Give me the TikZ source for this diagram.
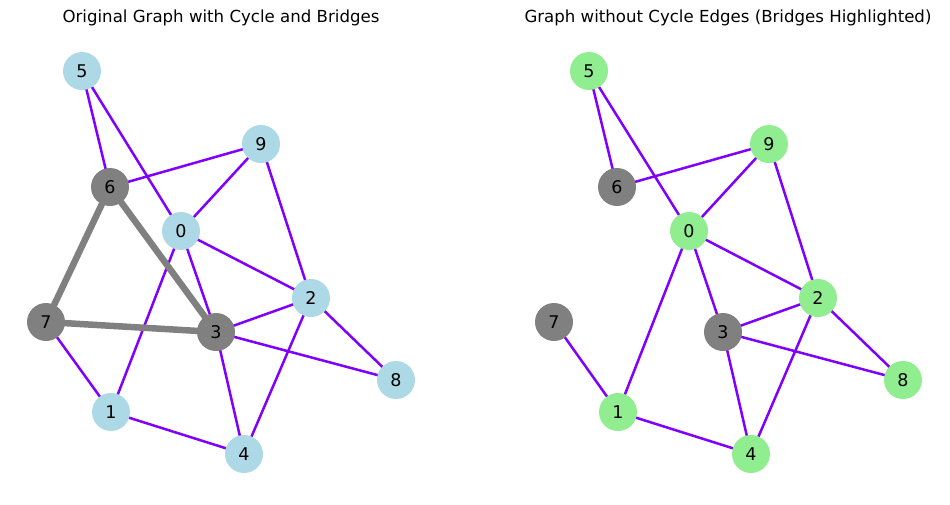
\documentclass[tikz,border=0pt]{standalone}
\usepackage{fontspec}
\setmainfont{DejaVu Sans}
\definecolor{edgep}{RGB}{128,0,255}
\definecolor{lblue}{RGB}{173,216,230}
\definecolor{lgreen}{RGB}{144,238,144}
\definecolor{gnode}{RGB}{128,128,128}
\begin{document}
\begin{tikzpicture}[x=1pt,y=-1pt,
  vtx/.style={circle,minimum size=38pt,inner sep=0pt,font=\fontsize{17.5}{19}\selectfont},
  bnode/.style={vtx,fill=lblue},
  gnd/.style={vtx,fill=lgreen},
  cnode/.style={vtx,fill=gnode},
  pe/.style={draw=edgep,line width=2.5pt},
  ce/.style={draw=gnode,line width=6.5pt},
  ttl/.style={font=\fontsize{16.6}{18}\selectfont,inner sep=0pt}]
\useasboundingbox (0,0) rectangle (950,504);
\node[ttl] (t1) at (221,18) {Original Graph with Cycle and Bridges};
\node[ttl] (t2) at (728,18) {Graph without Cycle Edges (Bridges Highlighted)};
% left graph
\coordinate (p5) at (82,71);
\coordinate (p9) at (261,144);
\coordinate (p6) at (110,187);
\coordinate (p0) at (181,231);
\coordinate (p2) at (311,298);
\coordinate (p7) at (46,322);
\coordinate (p3) at (216,332);
\coordinate (p8) at (396,380);
\coordinate (p1) at (111,412);
\coordinate (p4) at (244,454);
\foreach \a/\b in {5/6,5/0,6/9,9/0,9/2,0/2,0/3,0/1,7/1,1/4,3/2,3/8,3/4,2/4,2/8}
  \draw[pe] (p\a) -- (p\b);
\draw[ce] (p6) -- (p3);
\draw[ce] (p6) -- (p7);
\draw[ce] (p7) -- (p3);
\node[bnode] (a5) at (p5) {5};
\node[bnode] (a9) at (p9) {9};
\node[cnode] (a6) at (p6) {6};
\node[bnode] (a0) at (p0) {0};
\node[bnode] (a2) at (p2) {2};
\node[cnode] (a7) at (p7) {7};
\node[cnode] (a3) at (p3) {3};
\node[bnode] (a8) at (p8) {8};
\node[bnode] (a1) at (p1) {1};
\node[bnode] (a4) at (p4) {4};
% right graph
\coordinate (q5) at (589,71);
\coordinate (q9) at (769,144);
\coordinate (q6) at (617,187);
\coordinate (q0) at (689,231);
\coordinate (q2) at (818,298);
\coordinate (q7) at (554,322);
\coordinate (q3) at (723,332);
\coordinate (q8) at (903,380);
\coordinate (q1) at (618,412);
\coordinate (q4) at (751,454);
\foreach \a/\b in {5/6,5/0,6/9,9/0,9/2,0/2,0/3,0/1,7/1,1/4,3/2,3/8,3/4,2/4,2/8}
  \draw[pe] (q\a) -- (q\b);
\node[gnd] (b5) at (q5) {5};
\node[gnd] (b9) at (q9) {9};
\node[cnode] (b6) at (q6) {6};
\node[gnd] (b0) at (q0) {0};
\node[gnd] (b2) at (q2) {2};
\node[cnode] (b7) at (q7) {7};
\node[cnode] (b3) at (q3) {3};
\node[gnd] (b8) at (q8) {8};
\node[gnd] (b1) at (q1) {1};
\node[gnd] (b4) at (q4) {4};
\end{tikzpicture}
\end{document}
